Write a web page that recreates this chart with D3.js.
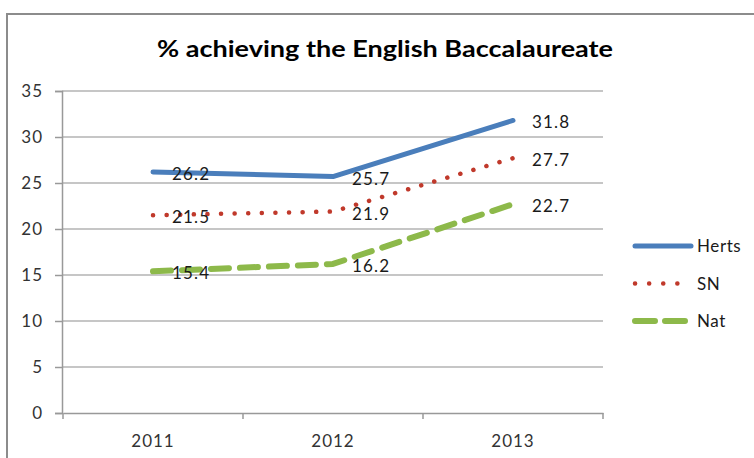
<!DOCTYPE html>
<html><head><meta charset="utf-8">
<script src="https://cdn.jsdelivr.net/npm/d3@7"></script>
<style>body{margin:0;background:#fff}svg{display:block}</style>
</head><body><div id="chart"></div>
<script>
const categories = ["2011", "2012", "2013"];
const herts = [26.2, 25.7, 31.8];
const sn = [21.5, 21.9, 27.7];
const nat = [15.4, 16.2, 22.7];
const yTicks = [0, 5, 10, 15, 20, 25, 30, 35];
const seriesNames = ["Herts", "SN", "Nat"];

const W = 754, H = 458;
const svg = d3.select("#chart").append("svg").attr("width", W).attr("height", H);
const font = "Lato, 'Open Sans', sans-serif";

// outer border
svg.append("path").attr("d", `M7,${H} L7,14 L${W},14`).attr("fill","none").attr("stroke","#8c8c8c").attr("stroke-width",2);

svg.append("text").attr("x", 157).attr("y", 57)
  .attr("font-family", font).attr("font-weight","bold").attr("font-size", 22).attr("fill","#000")
  .attr("textLength", 456).attr("lengthAdjust", "spacingAndGlyphs")
  .text("% achieving the English Baccalaureate");

const x = d3.scaleBand().domain(categories).range([63, 603]);
const y = d3.scaleLinear().domain([0, 35]).range([413, 91]);

// gridlines
svg.append("g").selectAll("line").data(yTicks.filter(d => d > 0)).join("line")
  .attr("x1", 62).attr("x2", 603).attr("y1", d => y(d)).attr("y2", d => y(d))
  .attr("stroke", "#b3b3b3").attr("stroke-width", 1.5);

const yAxis = svg.append("g").attr("transform", "translate(62,0)")
  .call(d3.axisLeft(y).tickValues(yTicks).tickSize(7).tickPadding(12));
const xAxis = svg.append("g").attr("transform", "translate(0,413)")
  .call(d3.axisBottom(x).tickSize(0).tickPadding(22));
[yAxis, xAxis].forEach(a => {
  a.select(".domain").attr("stroke", "#999").attr("stroke-width", 1.5);
  a.selectAll(".tick line").attr("stroke", "#999").attr("stroke-width", 1.5);
  a.selectAll("text").attr("font-family", font).attr("font-size", 17).attr("letter-spacing", 1).attr("fill", "#333");
});
// x-axis separator ticks
const edges = [x.range()[0]].concat(categories.slice(1).map(c => x(c))).concat([x.range()[1]]);
svg.append("g").selectAll("line").data(edges).join("line")
  .attr("x1", d => d).attr("x2", d => d)
  .attr("y1", 413).attr("y2", 419).attr("stroke", "#999").attr("stroke-width", 1.5);

const cx = d => x(d) + x.bandwidth() / 2;
const line = d3.line().x((d, i) => cx(categories[i])).y(d => y(d));

const styles = [
  {data: herts, color: "#4a7ebb", width: 5, dash: null},
  {data: sn, color: "#c0392b", width: 4.5, dash: "0.1 13.5"},
  {data: nat, color: "#8db94a", width: 6, dash: "18 11"}
];
styles.forEach(s => {
  svg.append("path").datum(s.data).attr("d", line).attr("fill","none")
    .attr("stroke", s.color).attr("stroke-width", s.width)
    .attr("stroke-dasharray", s.dash).attr("stroke-linecap", "round").attr("stroke-linejoin","round");
});
styles.forEach(s => {
  svg.append("g").selectAll("text").data(s.data).join("text")
    .attr("x", (d, i) => cx(categories[i]) + 19).attr("y", d => y(d) + 8)
    .attr("font-family", font).attr("font-size", 17).attr("letter-spacing", 1.2).attr("fill", "#1a1a1a")
    .text(d => d.toFixed(1));
});

// legend
const lg = svg.append("g");
styles.forEach((s, i) => {
  const ly = 246 + i * 37.5;
  lg.append("line").attr("x1", 635).attr("x2", 691).attr("y1", ly).attr("y2", ly)
    .attr("stroke", s.color).attr("stroke-width", s.width)
    .attr("stroke-dasharray", i === 1 ? "0.1 14" : (i === 2 ? "20 10" : null)).attr("stroke-linecap", "round");
  lg.append("text").attr("x", 697).attr("y", ly + 6).attr("font-family", font).attr("font-size", 17)
    .attr("letter-spacing", 0.6).attr("fill", "#1a1a1a").text(seriesNames[i]);
});
</script></body></html>
